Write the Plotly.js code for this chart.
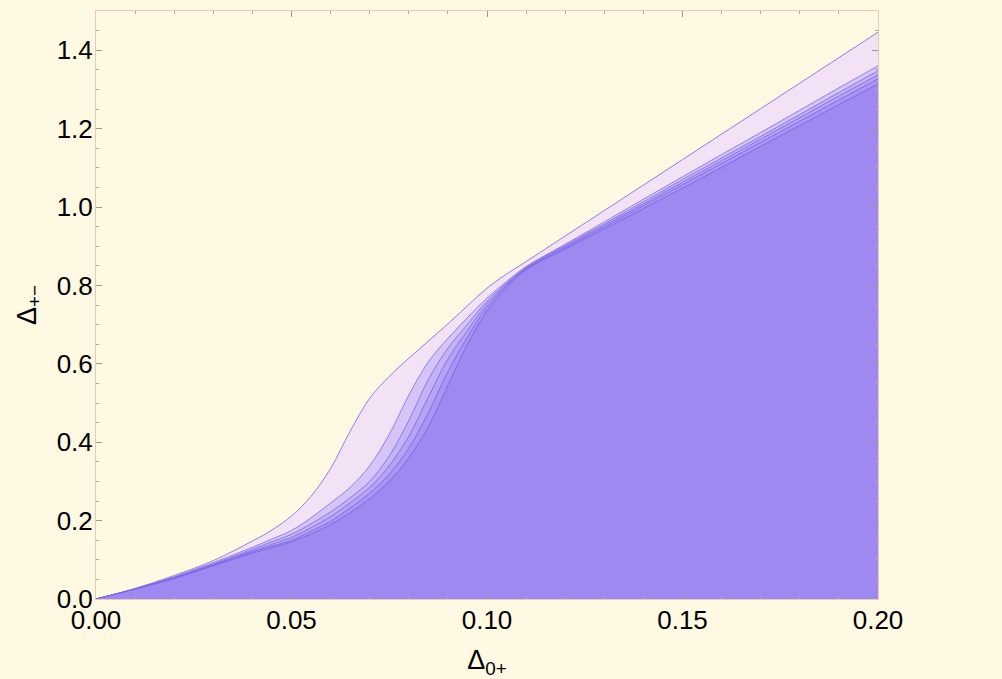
<!DOCTYPE html>
<html>
<head>
<meta charset="utf-8">
<script src="https://cdn.plot.ly/plotly-3.0.1.min.js"></script>
<style>html,body{margin:0;padding:0;background:#fff9e3;}#chart{width:1002px;height:679px;}</style>
</head>
<body>
<div id="chart"></div>
<script>
// Δ0+ sample positions
const delta0p = [0, 0.01, 0.02, 0.03, 0.04, 0.045, 0.05, 0.055, 0.06, 0.065, 0.07, 0.075, 0.08, 0.085, 0.09, 0.095, 0.10, 0.105, 0.11, 0.12, 0.13, 0.14, 0.15, 0.16, 0.17, 0.18, 0.19, 0.20];

// Δ+- boundary curves (outermost first)
const boundary1 = [0, 0.027, 0.060, 0.098, 0.148, 0.176, 0.212, 0.262, 0.333, 0.428, 0.512, 0.568, 0.614, 0.658, 0.702, 0.748, 0.793, 0.829, 0.861, 0.926, 0.991, 1.056, 1.121, 1.186, 1.251, 1.316, 1.381, 1.446];
const boundary2 = [0, 0.026, 0.057, 0.093, 0.132, 0.153, 0.175, 0.207, 0.245, 0.285, 0.340, 0.420, 0.520, 0.605, 0.665, 0.718, 0.768, 0.810, 0.848, 0.905, 0.962, 1.020, 1.077, 1.134, 1.190, 1.247, 1.304, 1.360];
const boundary3 = [0, 0.025, 0.055, 0.090, 0.127, 0.146, 0.165, 0.192, 0.222, 0.258, 0.300, 0.365, 0.455, 0.560, 0.640, 0.700, 0.760, 0.806, 0.846, 0.902, 0.957, 1.013, 1.070, 1.125, 1.180, 1.236, 1.292, 1.347];
const boundary4 = [0, 0.025, 0.054, 0.088, 0.123, 0.140, 0.157, 0.182, 0.210, 0.245, 0.285, 0.340, 0.415, 0.515, 0.612, 0.685, 0.753, 0.803, 0.844, 0.899, 0.953, 1.008, 1.063, 1.118, 1.173, 1.228, 1.283, 1.337];
const boundary5 = [0, 0.025, 0.053, 0.086, 0.120, 0.135, 0.150, 0.173, 0.198, 0.232, 0.270, 0.318, 0.385, 0.475, 0.580, 0.668, 0.745, 0.800, 0.842, 0.896, 0.949, 1.003, 1.057, 1.111, 1.165, 1.219, 1.273, 1.327];
const boundary6 = [0, 0.025, 0.052, 0.085, 0.117, 0.131, 0.146, 0.166, 0.190, 0.220, 0.256, 0.300, 0.360, 0.440, 0.545, 0.650, 0.735, 0.795, 0.840, 0.893, 0.944, 0.996, 1.048, 1.101, 1.155, 1.208, 1.261, 1.314];

const xTicks = [0, 0.05, 0.10, 0.15, 0.20];
const xTickText = ["0.00", "0.05", "0.10", "0.15", "0.20"];
const yTicks = [0, 0.2, 0.4, 0.6, 0.8, 1.0, 1.2, 1.4];
const yTickText = ["0.0", "0.2", "0.4", "0.6", "0.8", "1.0", "1.2", "1.4"];

const curves = [boundary1, boundary2, boundary3, boundary4, boundary5, boundary6];
const fills = ["#f3e1f6", "#d5c4f6", "#c4b2f5", "#b6a3f4", "#aa96f2", "#9e89f0"];
const lines = ["rgba(135,115,212,0.9)", "rgba(120,100,222,0.75)", "rgba(118,98,224,0.75)", "rgba(116,96,226,0.75)", "rgba(114,94,228,0.75)", "rgba(112,92,230,0.75)"];

const traces = curves.map((c, i) => ({
  x: delta0p, y: c, type: 'scatter', mode: 'lines',
  fill: 'tozeroy', fillcolor: fills[i],
  line: {color: lines[i], width: 1, shape: 'spline', smoothing: 1},
  hoverinfo: 'skip', showlegend: false
}));

const fam = 'Liberation Sans, Arial, sans-serif';
const axisFont = {family: fam, size: 26, color: '#000'};
const layout = {
  width: 1002, height: 679,
  paper_bgcolor: '#fff9e3', plot_bgcolor: '#fff9e3',
  margin: {l: 96, r: 124, t: 11, b: 80},
  showlegend: false,
  xaxis: {
    range: [0, 0.2], tickvals: xTicks, ticktext: xTickText,
    ticks: 'inside', ticklen: 6, tickwidth: 1, tickcolor: '#999',
    minor: {dtick: 0.01, ticks: 'inside', ticklen: 3, tickcolor: '#aaa', showgrid: false},
    showline: true, linecolor: '#ecc9b2', linewidth: 1, mirror: 'ticks',
    showgrid: false, zeroline: false, tickfont: axisFont, ticklabelstandoff: -2,
    title: {text: 'Δ<sub>0+</sub>', font: {family: fam, size: 27, color: '#000'}, standoff: 19}
  },
  yaxis: {
    range: [0, 1.5], tickvals: yTicks, ticktext: yTickText,
    ticks: 'inside', ticklen: 6, tickwidth: 1, tickcolor: '#999',
    minor: {dtick: 0.05, ticks: 'inside', ticklen: 3, tickcolor: '#aaa', showgrid: false},
    showline: true, linecolor: '#ecc9b2', linewidth: 1, mirror: 'ticks',
    showgrid: false, zeroline: false, tickfont: axisFont, ticklabelstandoff: -3,
    title: {text: 'Δ<sub>+−</sub>', font: {family: fam, size: 27, color: '#000'}, standoff: 12}
  }
};

Plotly.newPlot('chart', traces, layout, {displayModeBar: false, staticPlot: true});
</script>
</body>
</html>
